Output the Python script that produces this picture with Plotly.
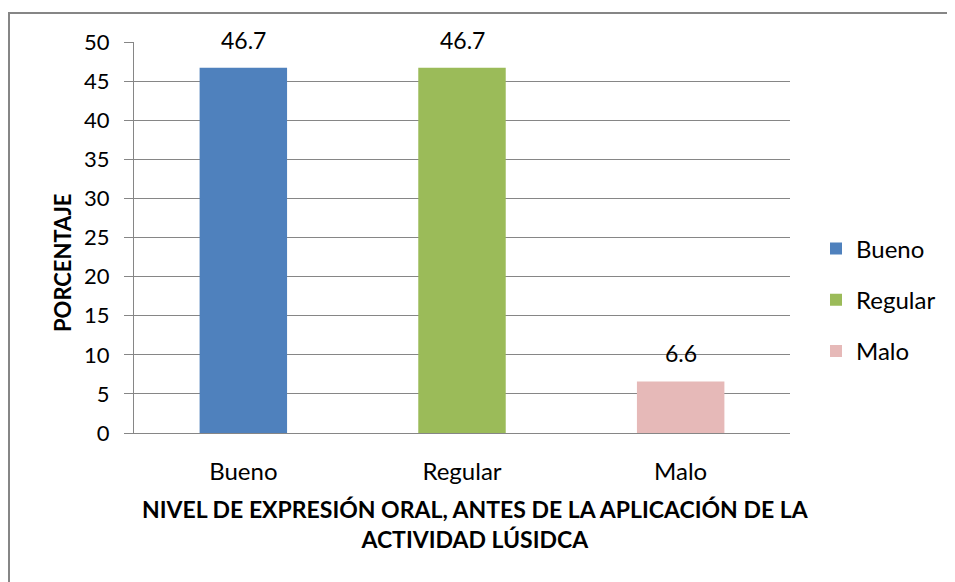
import plotly.graph_objects as go

categories = ["Bueno", "Regular", "Malo"]
values = [46.7, 46.7, 6.6]
labels = ["46.7", "46.7", "6.6"]
colors = ["#4F81BD", "#9BBB59", "#E6B9B8"]
y_ticks = [0, 5, 10, 15, 20, 25, 30, 35, 40, 45, 50]
x_title = "NIVEL DE EXPRESIÓN ORAL, ANTES DE LA APLICACIÓN DE LA<br>ACTIVIDAD LÚSIDCA"
y_title = "PORCENTAJE"

FONT = "Lato"
# the page body adds an 8px offset, so the figure is sized to fill the rest
W, H = 947, 574
L, R, T, B = 126, 165, 34, 149
PW, PH = W - L - R, H - T - B

fig = go.Figure()
for c, v, col in zip(categories, values, colors):
    fig.add_trace(go.Bar(
        x=[c], y=[v], name=c, legendgroup=c,
        marker=dict(color=col, line=dict(width=0)),
        width=0.4,
    ))

annotations = []
for c, v, lab in zip(categories, values, labels):
    annotations.append(dict(
        x=c, y=v, xref="x", yref="y", text=lab, showarrow=False,
        yanchor="bottom", yshift=12,
        font=dict(family=FONT, size=23, color="#000")))

annotations += [
    dict(text="<b>" + x_title + "</b>", xref="paper", yref="paper",
         x=(467 - L) / PW, y=-(516 - (H - B)) / PH,
         xanchor="center", yanchor="middle", showarrow=False,
         font=dict(family=FONT, size=23, color="#000"), align="center"),
    dict(text="<b>" + y_title + "</b>", xref="paper", yref="paper",
         x=-(L - 54) / PW, y=((H - B) - 255) / PH,
         xanchor="center", yanchor="middle", textangle=-90, showarrow=False,
         font=dict(family=FONT, size=22, color="#000")),
]

fig.update_layout(
    width=W, height=H,
    margin=dict(l=L, r=R, t=T, b=B, autoexpand=False),
    paper_bgcolor="white", plot_bgcolor="white",
    font=dict(family=FONT, color="#000"),
    barmode="overlay",
    showlegend=True,
    legend=dict(x=(808 - L) / PW, y=((H - B) - 292) / PH,
                xanchor="left", yanchor="middle",
                font=dict(family=FONT, size=24, color="#000"),
                tracegroupgap=17, itemsizing="constant"),
    xaxis=dict(categoryorder="array", categoryarray=categories,
               showline=True, linecolor="#868686", linewidth=1,
               ticks="", tickfont=dict(family=FONT, size=24, color="#000"),
               ticklabelstandoff=17),
    yaxis=dict(range=[0, 50], tickvals=y_ticks, ticktext=[str(t) for t in y_ticks],
               showgrid=True, gridcolor="#868686", gridwidth=1,
               showline=True, linecolor="#868686", linewidth=1,
               ticks="outside", ticklen=9, tickcolor="#868686",
               tickfont=dict(family=FONT, size=22, color="#000"),
               ticklabelstandoff=10, zeroline=False),
    shapes=[dict(type="rect", xref="paper", yref="paper",
                 x0=-(L - 1) / PW, x1=1.5,
                 y0=-0.6, y1=1 + (T - 5) / PH,
                 line=dict(color="#868686", width=2), layer="below")],
    annotations=annotations,
)

fig.write_html("out.html")
